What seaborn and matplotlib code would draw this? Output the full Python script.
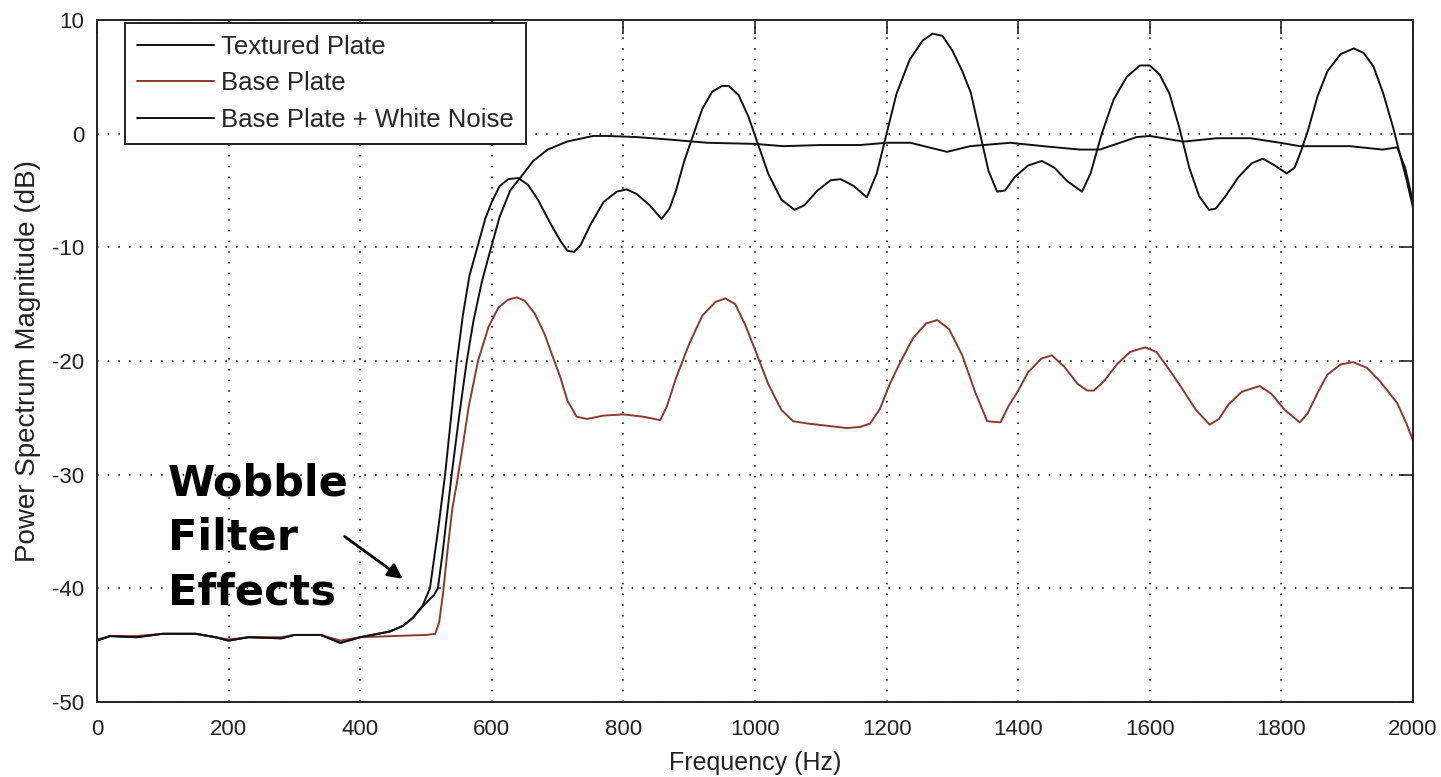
import matplotlib
matplotlib.use("Agg")
import matplotlib.pyplot as plt
import seaborn as sns
import pandas as pd

# ---------------- data ----------------
tex_f = [0, 20, 60, 100, 150, 180, 200, 230, 280, 300, 340, 370, 400, 445, 465, 480, 495, 506, 518, 529,
         538, 547, 556, 566, 578, 590, 600, 612, 625, 640, 655, 670, 690, 705, 715, 725, 735, 750, 770, 790,
         805, 820, 840, 858, 870, 880, 892, 905, 920, 935, 950, 960, 975, 990, 1005, 1020, 1040, 1060, 1075, 1095,
         1115, 1130, 1150, 1170, 1185, 1200, 1215, 1235, 1255, 1270, 1285, 1300, 1315, 1328, 1342, 1355, 1368, 1380,
         1395, 1415, 1436, 1455, 1475, 1497, 1510, 1527, 1545, 1565, 1585, 1600, 1615, 1630, 1645, 1660, 1675, 1690,
         1700, 1715, 1735, 1755, 1772, 1790, 1808, 1820, 1830, 1840, 1855, 1870, 1890, 1910, 1925, 1940, 1955, 1970,
         1980, 1990, 2000]
tex_db = [-44.6, -44.2, -44.3, -44.0, -44.0, -44.3, -44.6, -44.3, -44.4, -44.1, -44.1, -44.8, -44.3, -43.8, -43.3,
          -42.6, -41.5, -40.0, -35.0, -30.0, -25.0, -20.0, -16.0, -12.5, -10.0, -7.5, -6.0, -4.6, -4.0, -3.9,
          -4.5, -5.8, -8.0, -9.5, -10.3, -10.4, -9.8, -8.0, -6.0, -5.1, -4.9, -5.3, -6.3, -7.5, -6.6, -5.0, -2.5,
          -0.3, 2.2, 3.7, 4.2, 4.2, 3.4, 1.5, -1.0, -3.5, -5.8, -6.7, -6.3, -5.0, -4.1, -4.0, -4.6, -5.6, -3.5,
          0.0, 3.5, 6.5, 8.2, 8.8, 8.6, 7.3, 5.5, 3.6, 0.0, -3.3, -5.1, -5.0, -3.8, -2.8, -2.4, -3.0, -4.2, -5.1,
          -3.5, 0.0, 3.0, 5.0, 6.0, 6.0, 5.2, 3.5, 0.5, -3.0, -5.5, -6.7, -6.6, -5.5, -3.8, -2.6, -2.2, -2.8, -3.5,
          -3.0, -1.5, 0.2, 3.3, 5.5, 7.0, 7.5, 7.1, 5.9, 3.5, 0.5, -1.8, -4.0, -6.5]

base_f = [0, 20, 60, 100, 150, 180, 200, 230, 280, 300, 340, 370, 400, 450, 500, 514, 520, 526, 533, 540,
          547, 555, 565, 579, 595, 610, 625, 638, 650, 665, 680, 695, 704, 715, 729, 745, 770, 800, 830, 856,
          866, 880, 900, 920, 940, 955, 970, 985, 1000, 1020, 1040, 1058, 1080, 1110, 1140, 1160, 1175, 1190, 1205,
          1220, 1240, 1260, 1277, 1295, 1315, 1335, 1353, 1373, 1385, 1398, 1415, 1435, 1451, 1470, 1490, 1505,
          1515, 1530, 1550, 1570, 1593, 1610, 1630, 1650, 1670, 1691, 1705, 1720, 1740, 1767, 1785, 1805, 1828,
          1840, 1855, 1870, 1890, 1909, 1930, 1950, 1976, 1990, 2000]
base_db = [-44.5, -44.2, -44.2, -44.0, -44.0, -44.3, -44.5, -44.3, -44.3, -44.1, -44.1, -44.6, -44.3, -44.2, -44.1,
           -44.0, -43.0, -40.4, -36.5, -33.0, -30.7, -27.8, -24.0, -20.0, -17.0, -15.3, -14.6, -14.4, -14.7, -15.8,
           -17.6, -20.0, -21.4, -23.5, -24.9, -25.1, -24.8, -24.7, -24.9, -25.2, -24.0, -21.5, -18.5, -16.0, -14.8,
           -14.5, -15.0, -16.8, -19.0, -22.0, -24.3, -25.3, -25.5, -25.7, -25.9, -25.8, -25.5, -24.2, -22.0, -20.2,
           -18.0, -16.7, -16.4, -17.2, -19.5, -22.8, -25.3, -25.4, -24.0, -22.8, -21.0, -19.8, -19.5, -20.5, -22.0,
           -22.6, -22.6, -21.8, -20.3, -19.2, -18.8, -19.2, -20.8, -22.5, -24.3, -25.6, -25.1, -23.8, -22.7, -22.2,
           -22.9, -24.3, -25.4, -24.6, -22.8, -21.2, -20.3, -20.1, -20.6, -21.8, -23.7, -25.5, -27.0]

noise_f = [0, 20, 60, 100, 150, 180, 200, 230, 280, 300, 340, 370, 400, 445, 465, 480, 495, 505, 512, 518,
           525, 532, 539, 550, 562, 572, 585, 599, 612, 628, 647, 663, 685, 714, 754, 776, 820, 866, 927, 1000,
           1043, 1100, 1160, 1200, 1236, 1292, 1327, 1388, 1438, 1494, 1524, 1580, 1600, 1651, 1702, 1753, 1798,
           1828, 1904, 1954, 1976, 1988, 2000]
noise_db = [-44.6, -44.2, -44.3, -44.0, -44.0, -44.3, -44.6, -44.3, -44.4, -44.1, -44.1, -44.8, -44.3, -43.8, -43.3,
            -42.6, -41.6, -41.0, -40.6, -40.0, -37.0, -33.5, -30.0, -25.0, -20.0, -16.5, -13.0, -10.0, -7.3, -5.0,
            -3.6, -2.4, -1.4, -0.7, -0.2, -0.2, -0.3, -0.5, -0.8, -0.9, -1.1, -1.0, -1.0, -0.8, -0.8, -1.6, -1.1,
            -0.8, -1.1, -1.4, -1.4, -0.3, -0.2, -0.7, -0.4, -0.4, -0.8, -1.1, -1.1, -1.4, -1.2, -3.0, -6.0]

series_names = ["Textured Plate", "Base Plate", "Base Plate + White Noise"]
x_ticks = [0, 200, 400, 600, 800, 1000, 1200, 1400, 1600, 1800, 2000]
y_ticks = [-50, -40, -30, -20, -10, 0, 10]

# ---------------- style ----------------
sns.set_style("white")
plt.rcParams["font.family"] = ["Liberation Sans", "DejaVu Sans"]
plt.rcParams["axes.unicode_minus"] = False

colors = {"Textured Plate": "#111111", "Base Plate": "#8c3a2c", "Base Plate + White Noise": "#111111"}

fig = plt.figure(figsize=(14.41, 7.77), dpi=100)
ax = fig.add_axes([97 / 1441, 75 / 777, 1316 / 1441, 682 / 777])

frames = []
for name, f, d in zip(series_names, [tex_f, base_f, noise_f], [tex_db, base_db, noise_db]):
    frames.append(pd.DataFrame({"freq": f, "db": d, "series": name}))
df = pd.concat(frames, ignore_index=True)

for name in series_names:
    sub = df[df["series"] == name]
    sns.lineplot(data=sub, x="freq", y="db", ax=ax, color=colors[name], lw=1.4,
                 sort=False, estimator=None, label=name)

ax.set_xlim(0, 2000)
ax.set_ylim(-50, 10)
ax.set_xticks(x_ticks)
ax.set_yticks(y_ticks)
ax.set_xticklabels([str(v) for v in x_ticks])
ax.set_yticklabels([str(v) for v in y_ticks])

ax.grid(True, color="black", linestyle=(0, (1, 6)), linewidth=1.1)
ax.set_axisbelow(True)
for s in ax.spines.values():
    s.set_visible(True)
    s.set_color("#222222")
    s.set_linewidth(1.4)

ax.tick_params(axis="both", which="major", direction="in", length=10, width=1.2,
               top=True, right=True, labelsize=16, colors="#222222", pad=9)
ax.tick_params(axis="x", pad=12)

ax.set_xlabel("Frequency (Hz)", fontsize=18, color="#222222", labelpad=8)
ax.set_ylabel("Power Spectrum Magnitude (dB)", fontsize=20, color="#222222", labelpad=8)

leg = ax.legend(loc="upper left", bbox_to_anchor=(0.0213, 0.9956), borderaxespad=0,
                fontsize=18.5, frameon=True, fancybox=False, edgecolor="#222222",
                handlelength=3.0, handletextpad=0.3, labelspacing=0.5, borderpad=0.45)
leg.get_frame().set_linewidth(1.4)
leg.get_frame().set_alpha(1)

ax.text(108, -41.4, "Wobble\nFilter\nEffects", fontsize=31, fontweight="bold",
        family="DejaVu Sans", ha="left", va="baseline", linespacing=1.38, color="black")
ax.annotate("", xy=(468, -39.3), xytext=(373, -35.3),
            arrowprops=dict(arrowstyle="-|>", color="black", lw=2, mutation_scale=22))

fig.savefig("out.png", dpi=100)
